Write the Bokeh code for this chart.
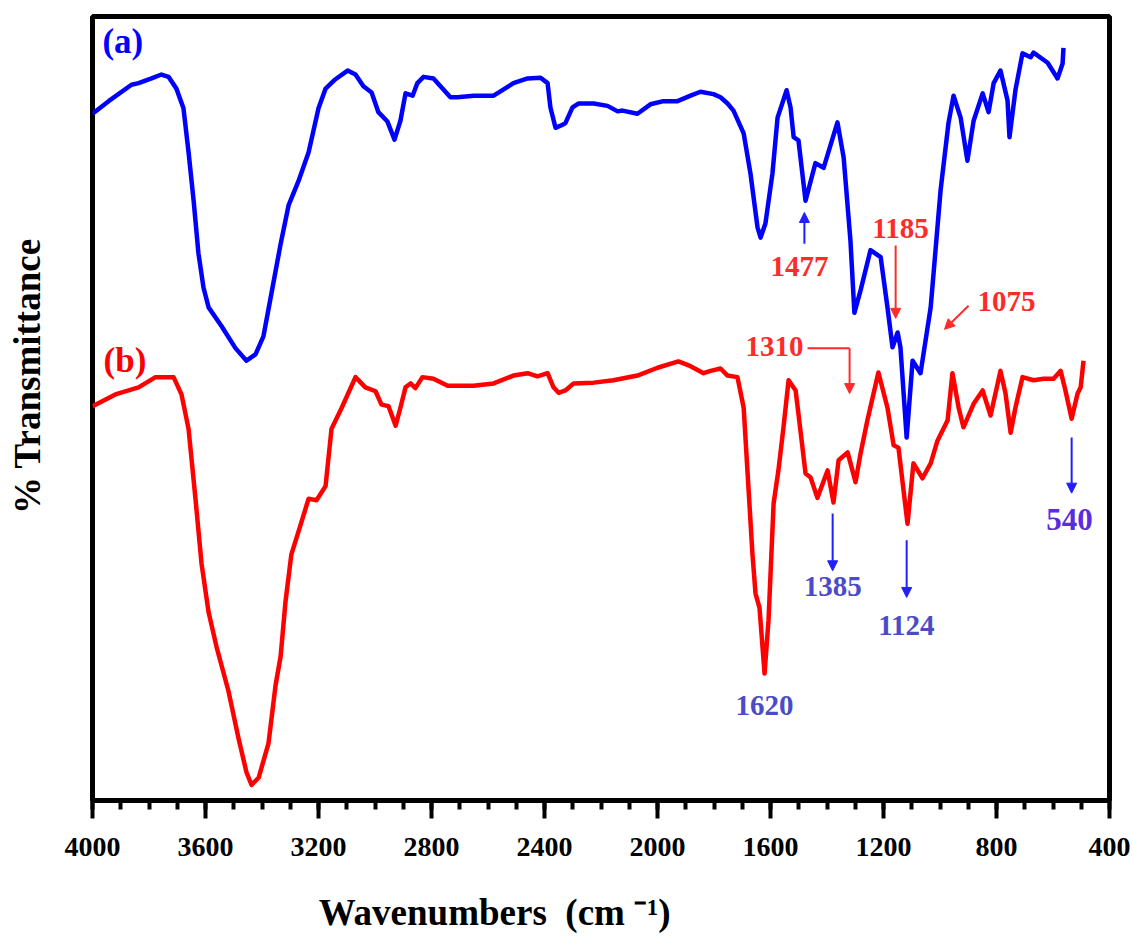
from bokeh.plotting import figure
from bokeh.models import Range1d, FixedTicker, Label, Arrow, NormalHead, ColumnDataSource
from bokeh.core.properties import value
from bokeh.embed import file_html
from bokeh.resources import INLINE

# ---- data ----
blue_wn = [4000, 3943, 3862, 3837, 3791, 3756, 3731, 3703, 3678, 3660,
           3642, 3625, 3607, 3589, 3543, 3494, 3455, 3423, 3395, 3366,
           3334, 3306, 3271, 3235, 3200, 3175, 3140, 3097, 3069, 3041,
           3012, 2988, 2956, 2931, 2910, 2892, 2867, 2850, 2828, 2793,
           2733, 2708, 2651, 2580, 2510, 2460, 2414, 2389, 2379, 2361,
           2336, 2326, 2301, 2280, 2226, 2177, 2141, 2124, 2071, 2025,
           1979, 1929, 1883, 1848, 1802, 1777, 1752, 1731, 1695, 1671,
           1646, 1635, 1618, 1593, 1575, 1543, 1529, 1518, 1501, 1476,
           1441, 1412, 1363, 1341, 1317, 1303, 1281, 1246, 1210, 1186,
           1168, 1150, 1140, 1118, 1097, 1069, 1033, 998, 970, 952,
           927, 903, 881, 849, 828, 810, 786, 761, 754, 733,
           708, 679, 669, 619, 584, 566, 563]
blue_T = [87.6, 89.2, 91.3, 91.5, 92.1, 92.6, 92.3, 90.8, 88.3, 82.7,
          76.5, 69.8, 65.4, 62.9, 60.5, 57.7, 56.1, 56.9, 59.2, 64.8,
          71.0, 75.9, 79.0, 82.7, 88.3, 90.8, 92.0, 93.1, 92.6, 91.1,
          90.3, 87.8, 86.6, 84.3, 86.7, 90.2, 89.9, 91.5, 92.3, 92.1,
          89.7, 89.7, 89.9, 89.9, 91.5, 92.1, 92.2, 91.5, 88.4, 85.8,
          86.2, 86.4, 88.4, 88.9, 88.9, 88.6, 87.9, 88.0, 87.6, 88.8,
          89.2, 89.2, 89.9, 90.4, 90.1, 89.7, 88.9, 88.0, 85.1, 80.0,
          73.1, 71.8, 73.6, 80.0, 87.1, 90.6, 88.4, 84.6, 84.2, 76.5,
          81.3, 80.7, 86.5, 82.0, 71.4, 62.2, 65.1, 70.2, 69.3, 62.9,
          57.8, 59.7, 57.8, 46.3, 56.1, 54.5, 62.9, 77.8, 86.4, 89.9,
          87.1, 81.6, 86.7, 90.2, 87.8, 91.5, 93.1, 89.3, 84.6, 90.6,
          95.3, 94.8, 95.4, 94.1, 92.1, 94.0, 96.0]

red_wn = [4000, 3919, 3837, 3777, 3713, 3685, 3660, 3635, 3614, 3589,
          3561, 3519, 3483, 3455, 3437, 3412, 3377, 3352, 3334, 3317,
          3296, 3264, 3235, 3207, 3175, 3154, 3119, 3069, 3034, 2998,
          2977, 2952, 2927, 2910, 2892, 2874, 2857, 2832, 2793, 2743,
          2651, 2580, 2510, 2460, 2425, 2389, 2368, 2350, 2326, 2297,
          2226, 2156, 2071, 2000, 1926, 1883, 1837, 1812, 1777, 1752,
          1717, 1695, 1678, 1664, 1653, 1639, 1621, 1607, 1589, 1572,
          1554, 1536, 1511, 1494, 1476, 1458, 1434, 1398, 1377, 1359,
          1327, 1299, 1281, 1257, 1218, 1186, 1164, 1147, 1115, 1094,
          1062, 1033, 1009, 973, 956, 934, 917, 881, 849, 821,
          786, 768, 750, 733, 708, 669, 633, 598, 573, 556,
          534, 513, 502, 492]
red_T = [50.3, 51.8, 52.7, 54.0, 54.0, 51.8, 47.4, 38.3, 30.2, 24.0,
         19.6, 14.0, 7.9, 3.6, 2.0, 2.9, 7.3, 14.7, 18.4, 25.3,
         31.4, 35.1, 38.5, 38.3, 40.1, 47.4, 50.0, 54.0, 52.7, 52.2,
         50.5, 50.3, 47.8, 50.1, 52.7, 53.2, 52.6, 54.0, 53.8, 52.9,
         52.9, 53.2, 54.2, 54.5, 54.1, 54.5, 52.7, 52.0, 52.3, 53.2,
         53.3, 53.6, 54.2, 55.2, 56.0, 55.4, 54.5, 54.8, 55.1, 54.2,
         54.0, 50.1, 39.9, 31.5, 26.4, 24.6, 16.2, 23.0, 37.9, 42.1,
         47.6, 53.6, 52.3, 47.2, 41.7, 41.2, 38.6, 42.1, 38.0, 43.4,
         44.4, 40.6, 44.3, 48.5, 54.6, 50.1, 45.3, 45.0, 35.3, 43.0,
         41.1, 43.0, 45.9, 48.5, 54.5, 50.1, 47.6, 50.6, 52.3, 49.1,
         54.8, 51.9, 46.9, 50.1, 54.0, 53.6, 53.8, 53.8, 54.8, 52.3,
         48.7, 51.9, 52.7, 56.1]

tick_values = [4000, 3600, 3200, 2800, 2400, 2000, 1600, 1200, 800, 400]
tick_labels = ["4000", "3600", "3200", "2800", "2400", "2000", "1600", "1200", "800", "400"]
minor_values = list(range(400, 4001, 100))

# peak labels
peak_text = ["1477", "1185", "1075", "1310", "1385", "1124", "1620", "540"]
peak_x = [1497, 1140, 765, 1586, 1380, 1119, 1621, 542]
peak_y = [68.1, 72.9, 63.6, 57.9, 27.3, 22.3, 12.1, 35.9]
peak_color = ["#ff2a2a", "#ff2a2a", "#ff2a2a", "#ff2a2a", "#4b4bc8", "#4b4bc8", "#4b4bc8", "#5a2be0"]
peak_size = ["29px", "29px", "29px", "29px", "29px", "29px", "29px", "31px"]

# arrows (start -> end)
red_arrow_x0 = [1157, 899, 1320]
red_arrow_y0 = [70.8, 63.1, 57.7]
red_arrow_x1 = [1157, 984, 1320]
red_arrow_y1 = [61.5, 60.1, 51.9]
blue_arrow_x0 = [1480, 1380, 1118, 534]
blue_arrow_y0 = [71.0, 36.6, 33.2, 46.3]
blue_arrow_x1 = [1480, 1380, 1118, 534]
blue_arrow_y1 = [75.0, 29.3, 25.9, 39.2]
elbow_x = [1469, 1320]
elbow_y = [57.7, 57.7]

FONT = "Liberation Serif"
NB = "\u00a0"

p = figure(width=1133, height=936, x_range=Range1d(4000, 400), y_range=Range1d(0, 100),
           output_backend="svg", toolbar_location=None,
           min_border_left=92, min_border_right=24, min_border_top=16, min_border_bottom=136)
p.background_fill_color = "white"
p.border_fill_color = "white"
p.xgrid.visible = False
p.ygrid.visible = False
p.outline_line_color = "black"
p.outline_line_width = 5
p.outline_line_alpha = 1.0

xa = p.xaxis[0]
xa.ticker = FixedTicker(ticks=tick_values, minor_ticks=minor_values)
xa.major_label_overrides = {v: s for v, s in zip(tick_values, tick_labels)}
xa.axis_line_width = 5
xa.axis_line_color = "black"
xa.major_tick_line_width = 4
xa.minor_tick_line_width = 4
xa.major_tick_out = 18
xa.major_tick_in = 0
xa.minor_tick_out = 9
xa.minor_tick_in = 0
xa.major_label_standoff = 19
xa.major_label_text_font = FONT
xa.major_label_text_font_style = "bold"
xa.major_label_text_font_size = "28px"
xa.major_label_text_color = "black"
xa.axis_label = "Wavenumbers" + NB + NB + "(cm" + NB + "\u207b\u00b9)" + NB * 23
xa.axis_label_text_font = FONT
xa.axis_label_text_font_style = "bold"
xa.axis_label_text_font_size = "37px"
xa.axis_label_text_color = "black"
xa.axis_label_standoff = 33

ya = p.yaxis[0]
ya.ticker = FixedTicker(ticks=[])
ya.axis_line_color = None
ya.major_tick_line_color = None
ya.minor_tick_line_color = None
ya.major_tick_out = 0
ya.minor_tick_out = 0
ya.major_label_standoff = 0
ya.axis_label = NB * 7 + "% Transmittance"
ya.axis_label_text_font = FONT
ya.axis_label_text_font_style = "bold"
ya.axis_label_text_font_size = "37px"
ya.axis_label_text_color = "black"
ya.axis_label_standoff = 45

p.line(blue_wn, blue_T, line_color="#0000ff", line_width=4.5, line_join="round")
p.line(red_wn, red_T, line_color="#ff0000", line_width=4.5, line_join="round")

src = ColumnDataSource(dict(x=peak_x, y=peak_y, text=peak_text, color=peak_color, size=peak_size))
p.text(x="x", y="y", text="text", source=src, text_color="color", text_font=value(FONT),
       text_font_style="bold", text_font_size="size", text_align="center", text_baseline="alphabetic")

p.line(elbow_x, elbow_y, line_color="#ff2a2a", line_width=2)
rsrc = ColumnDataSource(dict(x0=red_arrow_x0, y0=red_arrow_y0, x1=red_arrow_x1, y1=red_arrow_y1))
p.add_layout(Arrow(end=NormalHead(size=10, fill_color="#ff2a2a", line_color="#ff2a2a"),
                   x_start="x0", y_start="y0", x_end="x1", y_end="y1", source=rsrc,
                   line_color="#ff2a2a", line_width=2))
bsrc = ColumnDataSource(dict(x0=blue_arrow_x0, y0=blue_arrow_y0, x1=blue_arrow_x1, y1=blue_arrow_y1))
p.add_layout(Arrow(end=NormalHead(size=10, fill_color="#2020ff", line_color="#2020ff"),
                   x_start="x0", y_start="y0", x_end="x1", y_end="y1", source=bsrc,
                   line_color="#2020ff", line_width=2))

# curve tags
p.add_layout(Label(x=3965, y=96.8, text="(a)", text_color="#0000ff", text_font=FONT,
                   text_font_style="bold", text_font_size="35px", text_align="left",
                   text_baseline="alphabetic"))
p.add_layout(Label(x=3961, y=56.1, text="(b)", text_color="#ff0000", text_font=FONT,
                   text_font_style="bold", text_font_size="35px", text_align="left",
                   text_baseline="alphabetic"))

open("out.html", "w").write(file_html(p, INLINE))
